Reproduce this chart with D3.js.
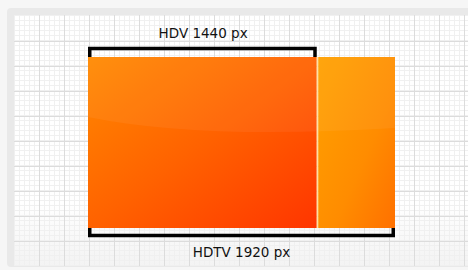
<!DOCTYPE html>
<html><head><meta charset="utf-8">
<script src="https://cdn.jsdelivr.net/npm/d3@7/dist/d3.min.js"></script>
<style>html,body{margin:0;padding:0;background:#f5f5f5;}svg{display:block;}</style>
</head><body>
<script>
// Data
const formats = ["HDV", "HDTV"];
const widths = [1440, 1920];
const unit = "px";
const gridStep = 25;   // major grid spacing (px on screen)
const minorStep = 5;

const W = 468, H = 270;
const svg = d3.select("body").append("svg").attr("width", W).attr("height", H);
const defs = svg.append("defs");

const gMain = defs.append("linearGradient").attr("id","gMain")
  .attr("x1","0").attr("y1","0").attr("x2","1").attr("y2","1");
gMain.append("stop").attr("offset","0%").attr("stop-color","#ff8a00");
gMain.append("stop").attr("offset","50%").attr("stop-color","#ff6200");
gMain.append("stop").attr("offset","100%").attr("stop-color","#ff3500");

const gExtra = defs.append("linearGradient").attr("id","gExtra")
  .attr("x1","0").attr("y1","0").attr("x2","1").attr("y2","1");
gExtra.append("stop").attr("offset","0%").attr("stop-color","#ffa200");
gExtra.append("stop").attr("offset","60%").attr("stop-color","#ff8c00");
gExtra.append("stop").attr("offset","100%").attr("stop-color","#ff7000");

const gBg = defs.append("linearGradient").attr("id","gBg")
  .attr("x1","0").attr("y1","0").attr("x2","0").attr("y2","1");
gBg.append("stop").attr("offset","0%").attr("stop-color","#ffffff");
gBg.append("stop").attr("offset","75%").attr("stop-color","#ffffff");
gBg.append("stop").attr("offset","100%").attr("stop-color","#f3f3f3");

// Panel frame
svg.append("rect").attr("x",0).attr("y",0).attr("width",W).attr("height",H).attr("fill","#f6f6f6");
svg.append("rect").attr("x",7).attr("y",8).attr("width",W+10).attr("height",259).attr("rx",4)
  .attr("fill","#e9e9e9");
const inner = {x:14, y:15, w:W-14+5, h:251};
svg.append("rect").attr("x",inner.x).attr("y",inner.y).attr("width",inner.w).attr("height",inner.h)
  .attr("fill","url(#gBg)");

// Grid
const grid = svg.append("g");
const minorX = d3.range(inner.x, W, minorStep), minorY = d3.range(inner.y, inner.y+inner.h, minorStep);
grid.selectAll(".mvx").data(minorX).join("line")
  .attr("x1",d=>d+0.5).attr("x2",d=>d+0.5).attr("y1",inner.y).attr("y2",inner.y+inner.h)
  .attr("stroke","#f0f0f0").attr("stroke-width",1);
grid.selectAll(".mhy").data(minorY).join("line")
  .attr("y1",d=>d+0.5).attr("y2",d=>d+0.5).attr("x1",inner.x).attr("x2",W)
  .attr("stroke","#f0f0f0").attr("stroke-width",1);
const majorX = d3.range(inner.x+gridStep, W, gridStep), majorY = d3.range(inner.y+gridStep+1, inner.y+inner.h, gridStep);
grid.selectAll(".Mvx").data(majorX).join("line")
  .attr("x1",d=>d+0.5).attr("x2",d=>d+0.5).attr("y1",inner.y).attr("y2",inner.y+inner.h)
  .attr("stroke","#dcdcdc").attr("stroke-width",1);
grid.selectAll(".Mhy").data(majorY).join("line")
  .attr("y1",d=>d+0.5).attr("y2",d=>d+0.5).attr("x1",inner.x).attr("x2",W)
  .attr("stroke","#dcdcdc").attr("stroke-width",1);

// Scales
const x = d3.scaleLinear().domain([0, d3.max(widths)]).range([88, 395]);
const yTop = 57, yBot = 228;

// Rectangles
svg.append("rect").attr("x", x(0)).attr("y", yTop)
  .attr("width", x(widths[0]) - x(0) - 1.5).attr("height", yBot - yTop).attr("fill","url(#gMain)");
svg.append("rect").attr("x", x(widths[0]) - 1.5).attr("y", yTop)
  .attr("width", 1.5).attr("height", yBot - yTop).attr("fill","#ffe0a0");
svg.append("rect").attr("x", x(widths[0])).attr("y", yTop)
  .attr("width", x(widths[1]) - x(widths[0])).attr("height", yBot - yTop).attr("fill","url(#gExtra)");

// Gloss highlight
defs.append("clipPath").attr("id","clipR").append("rect")
  .attr("x", x(0)).attr("y", yTop).attr("width", x(widths[1]) - x(0)).attr("height", yBot - yTop);
svg.append("path").attr("clip-path","url(#clipR)")
  .attr("d", `M${x(0)},${yTop} L${x(0)},117 Q${x(700)},140 ${x(1920)},128 L${x(1920)},${yTop} Z`)
  .attr("fill","#ffffff").attr("fill-opacity",0.05);

// Brackets
const sw = 3.5;
svg.append("path")
  .attr("d", `M${x(0)+sw/2},${yTop} L${x(0)+sw/2},48.5 L${x(widths[0])-sw/2-1.5},48.5 L${x(widths[0])-sw/2-1.5},${yTop}`)
  .attr("fill","none").attr("stroke","#000").attr("stroke-width",sw).attr("stroke-linejoin","miter");
svg.append("path")
  .attr("d", `M${x(0)+sw/2},${yBot} L${x(0)+sw/2},235.5 L${x(widths[1])-sw/2},235.5 L${x(widths[1])-sw/2},${yBot}`)
  .attr("fill","none").attr("stroke","#000").attr("stroke-width",sw).attr("stroke-linejoin","miter");

// Labels
const font = "'DejaVu Sans', sans-serif";
svg.append("text").attr("x", (x(0)+x(widths[0]))/2).attr("y", 38)
  .attr("text-anchor","middle").attr("font-family",font).attr("font-size",13.5).attr("fill","#111")
  .text(`${formats[0]} ${widths[0]} ${unit}`);
svg.append("text").attr("x", (x(0)+x(widths[1]))/2).attr("y", 257)
  .attr("text-anchor","middle").attr("font-family",font).attr("font-size",13.5).attr("fill","#111")
  .text(`${formats[1]} ${widths[1]} ${unit}`);
</script>
</body></html>
